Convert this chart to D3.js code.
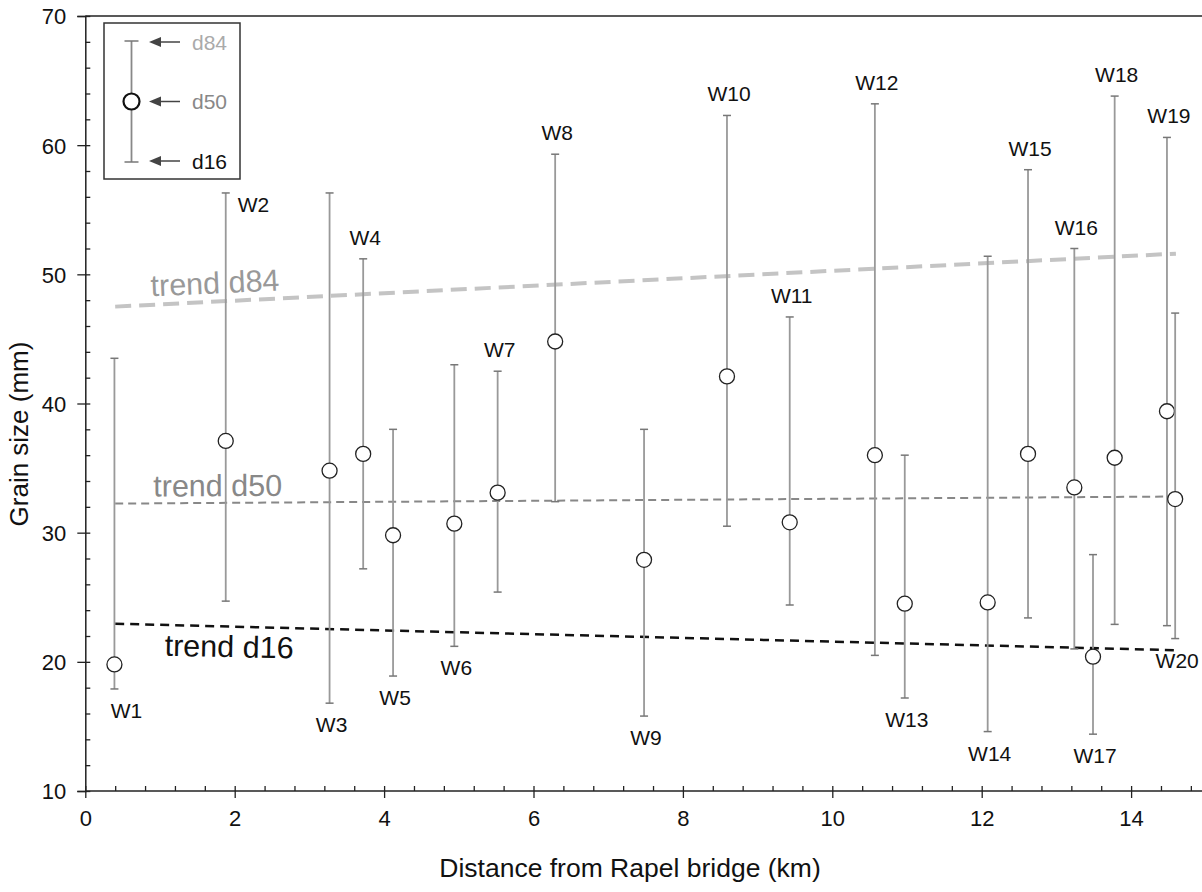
<!DOCTYPE html>
<html>
<head>
<meta charset="utf-8">
<script src="https://cdn.jsdelivr.net/npm/d3@7"></script>
<style>
  body { margin: 0; background: #fff; }
  text { font-family: Arial, "Liberation Sans", sans-serif; }
</style>
</head>
<body>
<div id="chart"></div>
<script>
// stations along the river
const stations = ["W1","W2","W3","W4","W5","W6","W7","W8","W9","W10","W11","W12","W13","W14","W15","W16","W17","W18","W19","W20"]
const distKm = [0.39, 1.88, 3.27, 3.72, 4.12, 4.94, 5.52, 6.29, 7.48, 8.59, 9.43, 10.57, 10.97, 12.08, 12.62, 13.24, 13.49, 13.78, 14.48, 14.59]
const d16 = [17.9, 24.7, 16.8, 27.2, 18.9, 21.2, 25.4, 32.4, 15.8, 30.5, 24.4, 20.5, 17.2, 14.6, 23.4, 21.0, 14.4, 22.9, 22.8, 21.8]
const d50 = [19.8, 37.1, 34.8, 36.1, 29.8, 30.7, 33.1, 44.8, 27.9, 42.1, 30.8, 36.0, 24.5, 24.6, 36.1, 33.5, 20.4, 35.8, 39.4, 32.6]
const d84 = [43.5, 56.3, 56.3, 51.2, 38.0, 43.0, 42.5, 59.3, 38.0, 62.3, 46.7, 63.2, 36.0, 51.4, 58.1, 52.0, 28.3, 63.8, 60.6, 47.0]

// trend line end points
const trendX = [0.4, 14.6]
const trend84 = [47.5, 51.6]
const trend50 = [32.25, 32.8]
const trend16 = [22.95, 20.9]

const xTicks = [0, 2, 4, 6, 8, 10, 12, 14]
const yTicks = [10, 20, 30, 40, 50, 60, 70]

// where each station label sits
const labelPos = ["below","right","below","above","below","below","above","above","below","above",
                  "above","above","below","below","above","above","below","above","above","below"]

const width = 1202, height = 892

const svg = d3.select("#chart").append("svg")
  .attr("width", width)
  .attr("height", height)

const x = d3.scaleLinear().domain([0, 15]).range([85.3, 85.3 + 15 * 74.7])
const y = d3.scaleLinear().domain([10, 70]).range([791, 16])

const font = "Arial, 'Liberation Sans', sans-serif"

// top frame line
svg.append("line")
  .attr("x1", x(0)).attr("x2", width)
  .attr("y1", y(70)).attr("y2", y(70))
  .attr("stroke", "#222").attr("stroke-width", 1.5)

// minor ticks
const xMinor = d3.range(0, 15.01, 0.4).map(v => +v.toFixed(1)).filter(v => Math.abs(v / 2 - Math.round(v / 2)) > 1e-6)
const yMinor = d3.range(10, 70, 2).filter(v => v % 10 !== 0)

svg.append("g")
  .attr("transform", `translate(0,${y(10)})`)
  .call(d3.axisBottom(x).tickValues(xMinor).tickSize(-5).tickFormat(""))
  .call(g => g.select(".domain").remove())
  .call(g => g.selectAll(".tick line").attr("stroke", "#222").attr("stroke-width", 1.3))

svg.append("g")
  .attr("transform", `translate(${x(0)},0)`)
  .call(d3.axisLeft(y).tickValues(yMinor).tickSize(-5).tickFormat(""))
  .call(g => g.select(".domain").remove())
  .call(g => g.selectAll(".tick line").attr("stroke", "#222").attr("stroke-width", 1.3))

// x-axis
svg.append("g")
  .attr("transform", `translate(0,${y(10)})`)
  .call(d3.axisBottom(x).tickValues(xTicks).tickSizeOuter(0).tickSize(6))
  .call(g => g.select(".domain").attr("stroke", "#222").attr("stroke-width", 1.5)
    .attr("d", `M${x(0)},0H${width}`))
  .call(g => g.selectAll(".tick line").attr("y1", -5).attr("y2", 7).attr("stroke", "#222").attr("stroke-width", 1.3))
  .call(g => g.selectAll(".tick text").attr("y", 35).attr("dy", 0)
    .attr("font-size", 22).attr("font-family", font).attr("fill", "#111"))

// y-axis
svg.append("g")
  .attr("transform", `translate(${x(0)},0)`)
  .call(d3.axisLeft(y).tickValues(yTicks).tickSizeOuter(0).tickSize(8))
  .call(g => g.select(".domain").attr("stroke", "#222").attr("stroke-width", 1.5))
  .call(g => g.selectAll(".tick line").attr("x1", 5).attr("x2", -8).attr("stroke", "#222").attr("stroke-width", 1.3))
  .call(g => g.selectAll(".tick text").attr("x", -19).attr("dy", "0.36em")
    .attr("font-size", 22).attr("font-family", font).attr("fill", "#111"))

// axis titles
svg.append("text")
  .attr("x", 630).attr("y", 877)
  .attr("text-anchor", "middle")
  .attr("font-size", 26.5).attr("fill", "#111")
  .text("Distance from Rapel bridge (km)")

svg.append("text")
  .attr("transform", "translate(28,434) rotate(-90)")
  .attr("text-anchor", "middle")
  .attr("font-size", 26).attr("fill", "#111")
  .text("Grain size (mm)")

// trend lines
const trends = [
  {vals: trend84, color: "#c4c4c4", w: 4, dash: "16,8"},
  {vals: trend50, color: "#888", w: 2, dash: "8,5"},
  {vals: trend16, color: "#111", w: 2.5, dash: "9,6"}
]
trends.forEach(t => {
  svg.append("line")
    .attr("x1", x(trendX[0])).attr("y1", y(t.vals[0]))
    .attr("x2", x(trendX[1])).attr("y2", y(t.vals[1]))
    .attr("stroke", t.color).attr("stroke-width", t.w)
    .attr("stroke-dasharray", t.dash)
})

// trend labels
function trendLabel(txt, kx, val, ang, color) {
  svg.append("text")
    .attr("transform", `translate(${x(kx)},${y(val)}) rotate(${ang})`)
    .attr("font-size", 30.5).attr("fill", color)
    .text(txt)
}
trendLabel("trend d84", 0.88, 48.3, -2.6, "#999")
trendLabel("trend d50", 0.91, 32.8, -0.3, "#888")
trendLabel("trend d16", 1.06, 20.47, 1.2, "#111")

// error bars
const rows = stations.map((s, i) => ({name: s, x: distKm[i], lo: d16[i], mid: d50[i], hi: d84[i], pos: labelPos[i]}))

const bars = svg.append("g").selectAll("g").data(rows).enter().append("g")

bars.append("line")
  .attr("x1", d => x(d.x)).attr("x2", d => x(d.x))
  .attr("y1", d => y(d.lo)).attr("y2", d => y(d.hi))
  .attr("stroke", "#999").attr("stroke-width", 1.8)

bars.selectAll(".cap")
  .data(d => [d.lo, d.hi].map(v => ({x: d.x, v: v})))
  .enter().append("line")
  .attr("x1", d => x(d.x) - 4).attr("x2", d => x(d.x) + 4)
  .attr("y1", d => y(d.v)).attr("y2", d => y(d.v))
  .attr("stroke", "#777").attr("stroke-width", 1.5)

bars.append("circle")
  .attr("cx", d => x(d.x)).attr("cy", d => y(d.mid))
  .attr("r", 7.5)
  .attr("fill", "#fff").attr("stroke", "#222").attr("stroke-width", 1.3)

bars.append("text")
  .attr("x", d => x(d.x) + (d.pos === "right" ? 12 : d.name === "W1" ? 12 : 2))
  .attr("y", d => d.pos === "above" ? y(d.hi) - 14 : d.pos === "right" ? y(d.hi) + 19 : y(d.lo) + 29)
  .attr("text-anchor", d => d.pos === "right" ? "start" : "middle")
  .attr("font-size", 21).attr("fill", "#111")
  .text(d => d.name)

// legend box
const lg = svg.append("g")
lg.append("rect")
  .attr("x", 104).attr("y", 23).attr("width", 136).attr("height", 156)
  .attr("fill", "#fff").attr("stroke", "#333").attr("stroke-width", 1.5)

lg.append("line")
  .attr("x1", 131.5).attr("x2", 131.5).attr("y1", 41).attr("y2", 162)
  .attr("stroke", "#888").attr("stroke-width", 1.8)
;[41, 162].forEach(v => lg.append("line")
  .attr("x1", 124.5).attr("x2", 138.5).attr("y1", v).attr("y2", v)
  .attr("stroke", "#777").attr("stroke-width", 1.5))
lg.append("circle")
  .attr("cx", 131.5).attr("cy", 101.5).attr("r", 8)
  .attr("fill", "#fff").attr("stroke", "#111").attr("stroke-width", 2.2)

const legendRows = [
  {yy: 42, lbl: "d84", color: "#aaa"},
  {yy: 101.5, lbl: "d50", color: "#888"},
  {yy: 161, lbl: "d16", color: "#111"}
]
legendRows.forEach(r => {
  lg.append("line")
    .attr("x1", 180).attr("x2", 158).attr("y1", r.yy).attr("y2", r.yy)
    .attr("stroke", "#444").attr("stroke-width", 1.5)
  lg.append("path")
    .attr("d", `M149,${r.yy}L161,${r.yy - 5}L161,${r.yy + 5}Z`)
    .attr("fill", "#444")
  lg.append("text")
    .attr("x", 192).attr("y", r.yy + 7.5)
    .attr("font-size", 21).attr("fill", r.color)
    .text(r.lbl)
})
</script>
</body>
</html>
